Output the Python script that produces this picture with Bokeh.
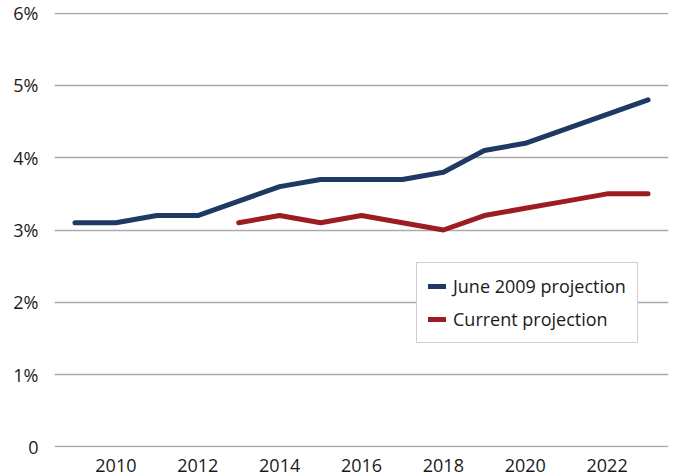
from bokeh.plotting import figure
from bokeh.models import FixedTicker, Range1d, Legend, LegendItem
from bokeh.embed import file_html
from bokeh.resources import INLINE

years_june = [2009, 2010, 2011, 2012, 2013, 2014, 2015, 2016, 2017, 2018, 2019, 2020, 2021, 2022, 2023]
june_2009 = [3.1, 3.1, 3.2, 3.2, 3.4, 3.6, 3.7, 3.7, 3.7, 3.8, 4.1, 4.2, 4.4, 4.6, 4.8]
years_current = [2013, 2014, 2015, 2016, 2017, 2018, 2019, 2020, 2021, 2022, 2023]
current = [3.1, 3.2, 3.1, 3.2, 3.1, 3.0, 3.2, 3.3, 3.4, 3.5, 3.5]
x_ticks = [2010, 2012, 2014, 2016, 2018, 2020, 2022]
y_ticks = [0, 1, 2, 3, 4, 5, 6]
y_labels = ["0", "1%", "2%", "3%", "4%", "5%", "6%"]

FONT = "Open Sans"

p = figure(width=672, height=475, output_backend="svg", toolbar_location=None,
           x_range=Range1d(2008.5, 2023.5), y_range=Range1d(-0.01, 6.01),
           min_border_left=54, min_border_right=4, min_border_top=12, min_border_bottom=28)
p.outline_line_color = None
p.xgrid.grid_line_color = None
p.ygrid.grid_line_color = "#ababab"
p.ygrid.grid_line_width = 1.3
p.ygrid.ticker = FixedTicker(ticks=y_ticks)

p.yaxis.ticker = FixedTicker(ticks=y_ticks)
p.yaxis.major_label_overrides = {t: l for t, l in zip(y_ticks, y_labels)}
p.xaxis.ticker = FixedTicker(ticks=x_ticks)
for ax in (p.xaxis[0], p.yaxis[0]):
    ax.axis_line_color = None
    ax.major_tick_line_color = None
    ax.minor_tick_line_color = None
    ax.major_label_text_font = FONT
    ax.major_label_text_font_size = "18px"
    ax.major_label_text_color = "#1a1a1a"
p.xaxis.major_label_standoff = 5
p.yaxis.major_label_standoff = 10

r1 = p.line(years_june, june_2009, line_color="#1f3864", line_width=5, line_cap="round", line_join="round")
r2 = p.line(years_current, current, line_color="#9c1c21", line_width=5, line_cap="round", line_join="round")

legend = Legend(items=[LegendItem(label="June 2009 projection", renderers=[r1]),
                       LegendItem(label="Current projection", renderers=[r2])],
                location=(362, 104), border_line_color="#a0a0a0", border_line_width=1.3,
                background_fill_color="white", background_fill_alpha=1.0,
                label_text_font=FONT, label_text_font_size="18px", label_text_color="#1a1a1a",
                glyph_width=18, glyph_height=20, label_height=20, label_standoff=7,
                spacing=9, padding=11, margin=0)
p.add_layout(legend, "center")

open("out.html", "w").write(file_html(p, INLINE))
